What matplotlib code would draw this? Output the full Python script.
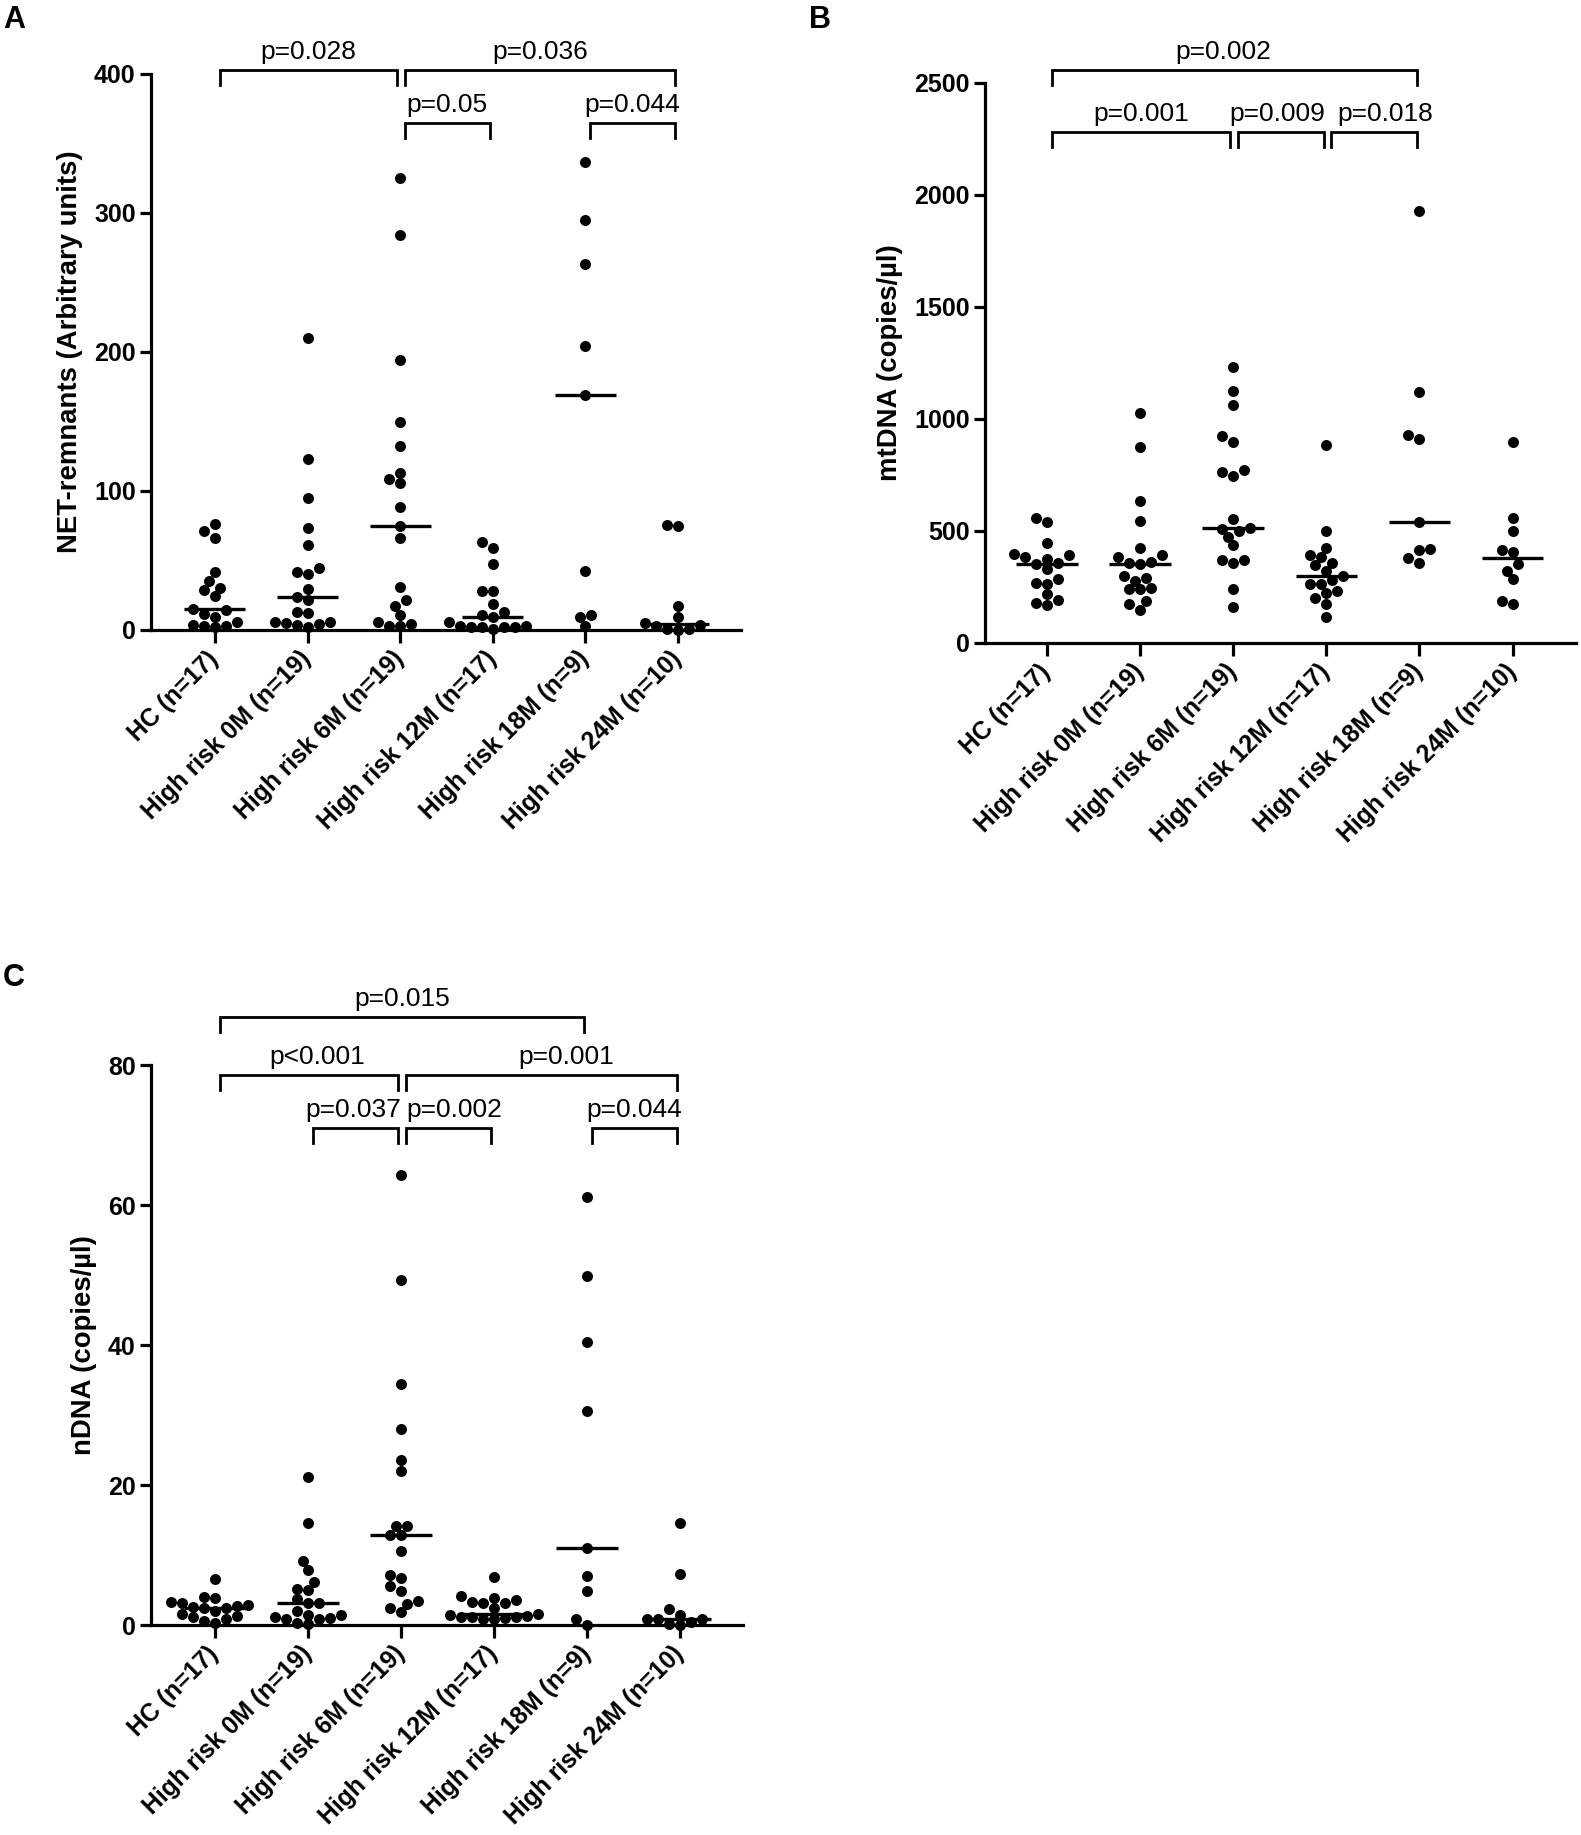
import numpy as np
import matplotlib
matplotlib.use('Agg')
import matplotlib.pyplot as plt

plt.rcParams['font.family'] = ['Liberation Sans', 'DejaVu Sans']

groups = ['HC (n=17)', 'High risk 0M (n=19)', 'High risk 6M (n=19)',
          'High risk 12M (n=17)', 'High risk 18M (n=9)', 'High risk 24M (n=10)']

# panel A - NET remnants
net_hc = [76, 71.3, 65.8, 41.9, 34.9, 29.9, 28.7, 24.2, 15.1, 14.4, 11.5, 9.6, 6.0, 3.8, 3.1, 3.1, 1.9]
net_0m = [209.8, 122.7, 95.2, 73.7, 61, 44.5, 41.4, 40.2, 29.4, 24, 21.5, 12.7, 12.0, 5.5, 5.5, 4.8, 4.3, 3.6, 1.9]
net_6m = [325.5, 284.3, 194.4, 149.4, 132.4, 113, 108.5, 105.5, 88.5, 75, 65.8, 31.1, 21.8, 17, 10.8, 5.5, 4.3, 3.1, 3.1]
net_12m = [63.4, 59.3, 47.4, 28.2, 28.2, 18.7, 12.7, 11.0, 9.1, 6.0, 3.1, 3.1, 2.4, 2.4, 1.9, 1.9, 0.7]
net_18m = [336.7, 294.9, 263.5, 204, 169.3, 42.4, 10.6, 9.0, 2.6]
net_24m = [75.5, 75, 17, 9.1, 4.8, 3.6, 2.6, 0.7, 0.7, 0.2]

# panel B - mtDNA
mt_hc = [556, 538, 445, 396, 393, 384, 374, 359, 354, 329, 287, 269, 262, 217, 194, 179, 169]
mt_0m = [1027, 874, 635, 546, 423, 393, 384, 362, 359, 351, 299, 291, 277, 244, 239, 239, 187, 175, 149]
mt_6m = [1233, 1125, 1064, 924, 897, 770, 762, 747, 553, 515, 508, 498, 471, 436, 371, 371, 359, 242, 160]
mt_12m = [886, 498, 426, 393, 384, 359, 347, 321, 299, 280, 265, 262, 232, 224, 202, 172, 117]
mt_18m = [1930, 1121, 927, 909, 538, 419, 416, 381, 359]
mt_24m = [897, 558, 498, 416, 408, 354, 321, 284, 187, 176]

# panel C - nDNA
n_hc = [6.6, 4.0, 3.8, 3.3, 3.1, 2.8, 2.7, 2.6, 2.5, 2.4, 2.0, 1.6, 1.3, 1.1, 0.8, 0.6, 0.3]
n_0m = [21.2, 14.6, 9.2, 7.9, 6.1, 5.2, 5.0, 3.7, 3.2, 3.1, 2.0, 1.5, 1.5, 1.2, 1.0, 0.8, 0.8, 0.3, 0.1]
n_6m = [64.3, 49.3, 34.5, 28.0, 23.6, 22.0, 14.1, 14.1, 12.8, 12.8, 10.6, 7.1, 6.7, 5.6, 4.9, 3.4, 3.0, 2.5, 1.8]
n_12m = [6.8, 4.1, 3.9, 3.6, 3.3, 3.2, 3.1, 2.5, 1.6, 1.4, 1.3, 1.2, 1.2, 1.1, 1.0, 0.9, 0.8]
n_18m = [61.1, 49.8, 40.4, 30.6, 11.0, 7.0, 4.8, 0.9, 0.0]
n_24m = [14.6, 7.3, 2.3, 1.5, 0.8, 0.8, 0.8, 0.5, 0.1, 0.0]

# comparisons: (group i, group j, bracket height, label, label shift in category units)
brk_a = [(0, 2, 402.9, 'p=0.028', 0), (2, 5, 402.9, 'p=0.036', 0),
         (2, 3, 364.7, 'p=0.05', 0), (4, 5, 364.7, 'p=0.044', 0)]
brk_b = [(0, 4, 2558, 'p=0.002', -0.12), (0, 2, 2283, 'p=0.001', 0),
         (2, 3, 2283, 'p=0.009', -0.04), (3, 4, 2283, 'p=0.018', 0.12)]
brk_c = [(0, 4, 86.9, 'p=0.015', 0), (0, 2, 78.6, 'p<0.001', 0.09), (2, 5, 78.6, 'p=0.001', 0.27),
         (1, 2, 71.0, 'p=0.037', -0.02), (2, 3, 71.0, 'p=0.002', 0.06), (4, 5, 71.0, 'p=0.044', 0)]

W, H, DPI = 1581, 1835, 100
DOT = 11.0  # dot diameter in px


def swarm(vals, ppy, ppx):
    """simple beeswarm: offsets (category units), dots may touch a little"""
    vals = np.asarray(vals, float)
    offs = np.zeros(len(vals))
    placed = []
    for idx in np.argsort(vals):
        y = vals[idx] * ppy
        for k in range(60):
            found = False
            for sgn in ([0] if k == 0 else [-1, 1]):
                o = sgn * k * DOT * 0.5
                if all((o - px) ** 2 + (y - py) ** 2 >= (DOT * 0.86) ** 2 for px, py in placed):
                    found = True
                    break
            if found:
                break
        placed.append((o, y))
        offs[idx] = o / ppx
    return offs


def panel(rect, data, ymax, yticks, ylabel, xlim, brackets):
    ax = fig.add_axes(rect)
    ax.set_xlim(*xlim)
    ax.set_ylim(0, ymax)
    ppy = rect[3] * H / ymax
    ppx = rect[2] * W / (xlim[1] - xlim[0])
    for i, vals in enumerate(data):
        off = swarm(vals, ppy, ppx)
        ax.scatter(i + off, vals, s=(DOT * 72 / DPI) ** 2, color='black', lw=0, zorder=3, clip_on=False)
        med = np.median(vals)
        ax.plot([i - 0.33, i + 0.33], [med, med], color='black', lw=2.4, zorder=4, solid_capstyle='butt')
    ax.spines['top'].set_visible(False)
    ax.spines['right'].set_visible(False)
    ax.spines['left'].set_linewidth(2.3)
    ax.spines['bottom'].set_linewidth(2.3)
    ax.spines['left'].set_bounds(0, ymax)
    ax.set_yticks(yticks)
    ax.set_xticks(range(len(groups)))
    ax.set_xticklabels(groups, rotation=45, ha='right', va='center', rotation_mode='anchor',
                       fontsize=17.8, fontweight='bold')
    ax.tick_params(axis='x', length=9, width=2.3, pad=9)
    ax.tick_params(axis='y', length=8, width=2.3, labelsize=18, pad=3)
    for t in ax.get_yticklabels():
        t.set_fontweight('bold')
    ax.set_ylabel(ylabel, fontsize=19.8, fontweight='bold', labelpad=8)
    leg = 15 / ppy
    for i, j, yb, txt, dx in brackets:
        x1, x2 = i + 0.05, j - 0.03
        ax.plot([x1, x1, x2, x2], [yb - leg, yb, yb, yb - leg], color='black', lw=2.0,
                clip_on=False, solid_joinstyle='miter')
        ax.annotate(txt, xy=((x1 + x2) / 2 + dx, yb), xytext=(0, 4), textcoords='offset points',
                    ha='center', va='bottom', fontsize=19, annotation_clip=False)
    return ax


fig = plt.figure(figsize=(W / DPI, H / DPI), dpi=DPI)

panel([0.0955, 0.6567, 0.3732, 0.303], [net_hc, net_0m, net_6m, net_12m, net_18m, net_24m],
      400, [0, 100, 200, 300, 400], 'NET-remnants (Arbitrary units)', (-0.69, 5.68), brk_a)
panel([0.623, 0.6496, 0.3738, 0.3052], [mt_hc, mt_0m, mt_6m, mt_12m, mt_18m, mt_24m],
      2500, [0, 500, 1000, 1500, 2000, 2500], 'mtDNA (copies/µl)', (-0.665, 5.68), brk_b)
panel([0.0955, 0.1144, 0.3745, 0.3052], [n_hc, n_0m, n_6m, n_12m, n_18m, n_24m],
      80, [0, 20, 40, 60, 80], 'nDNA (copies/µl)', (-0.69, 5.68), brk_c)

fig.text(14 / W, 1 - 20 / H, 'A', fontsize=22, fontweight='bold', ha='center', va='center')
fig.text(820 / W, 1 - 20 / H, 'B', fontsize=22, fontweight='bold', ha='center', va='center')
fig.text(14 / W, 1 - 978 / H, 'C', fontsize=22, fontweight='bold', ha='center', va='center')

fig.savefig('out.png', dpi=DPI)
